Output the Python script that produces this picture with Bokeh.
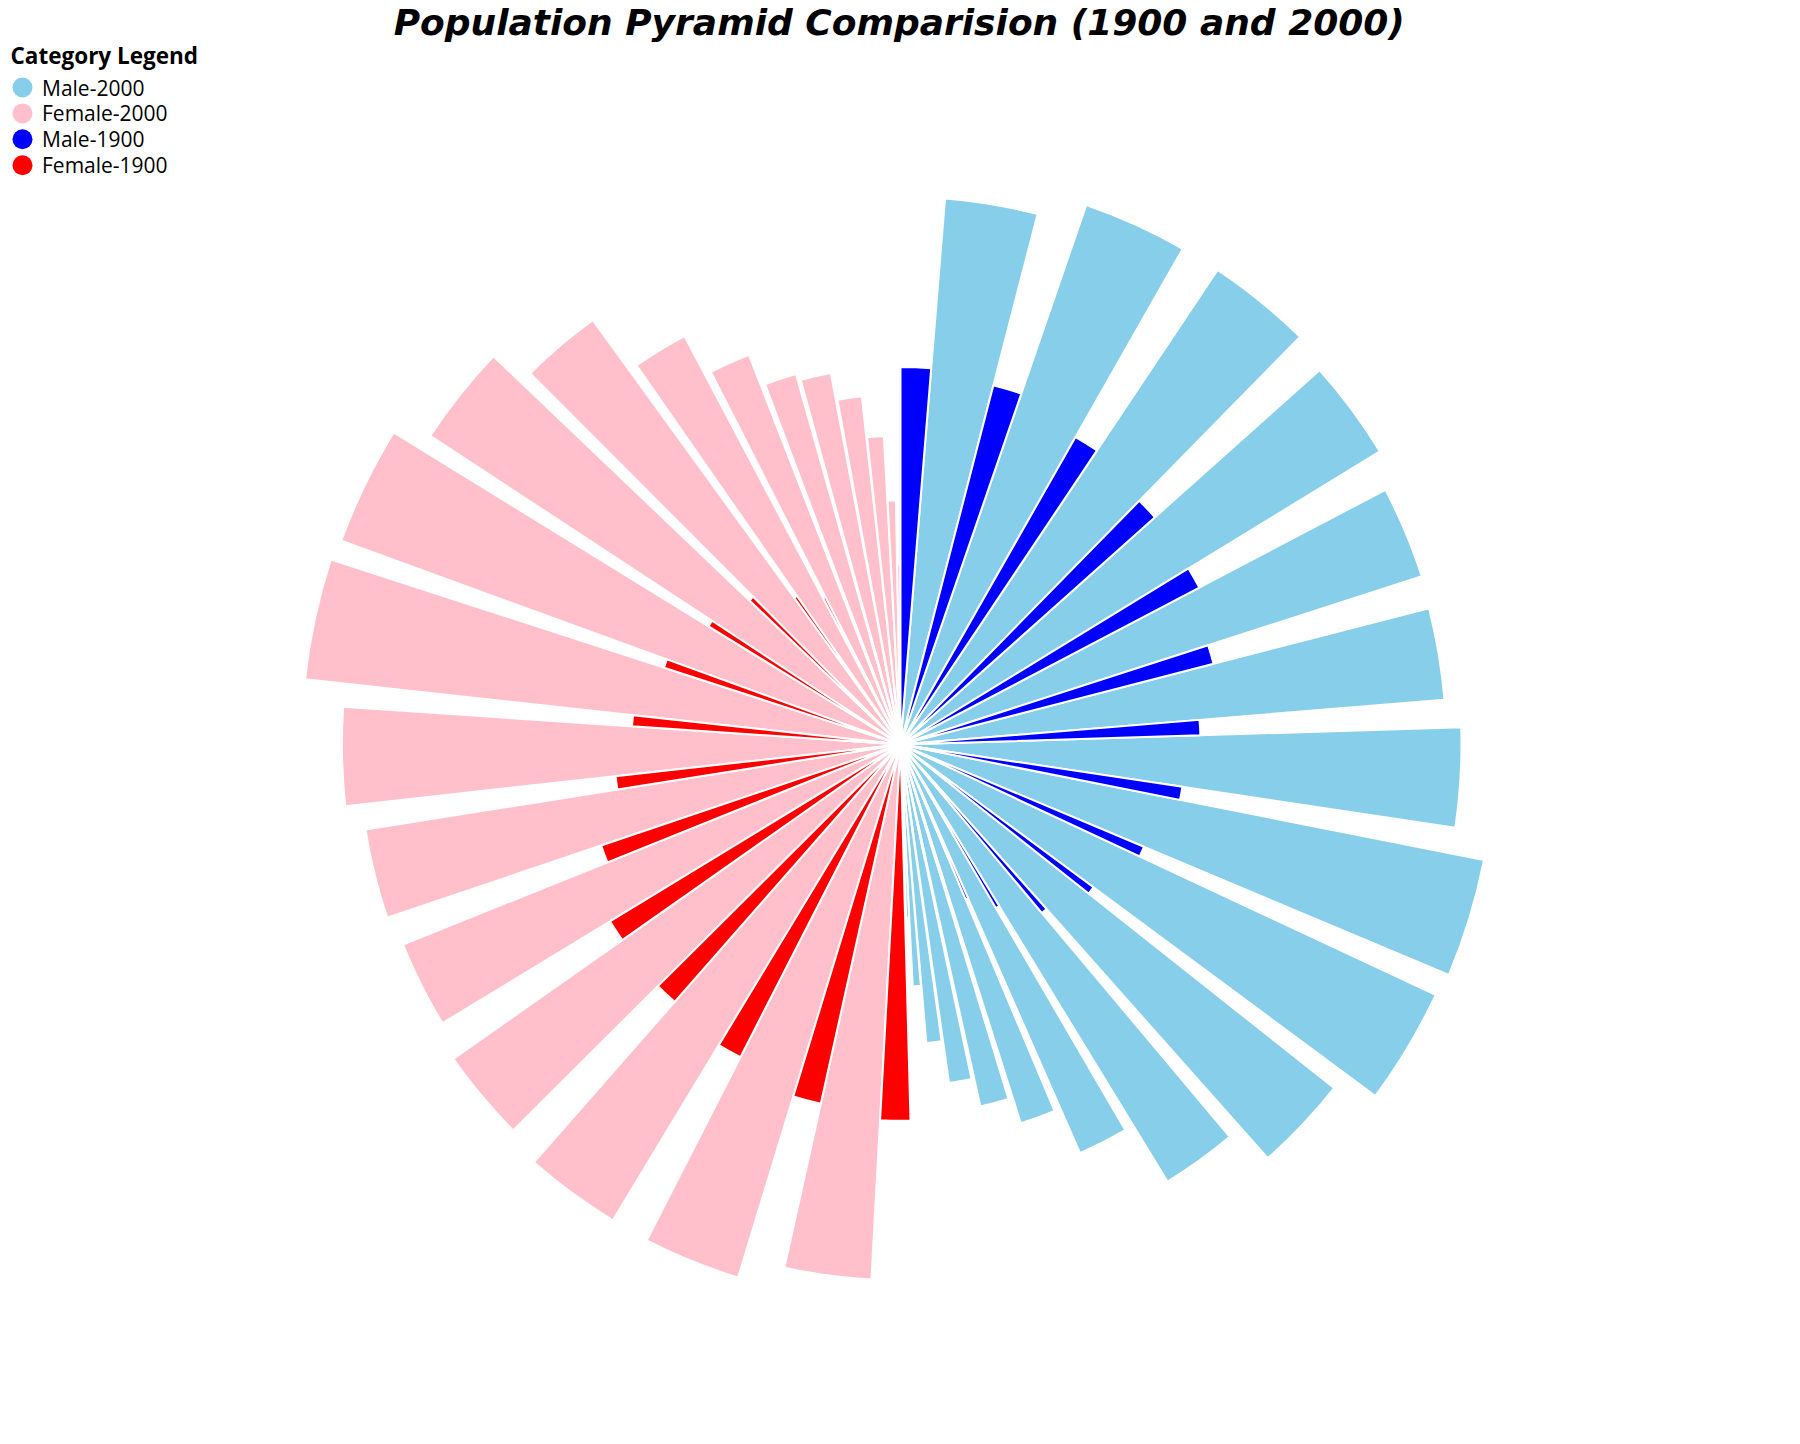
import numpy as np
from bokeh.plotting import figure
from bokeh.models import Range1d, Label, ColumnDataSource
from bokeh.core.properties import value
from bokeh.embed import file_html
from bokeh.resources import INLINE

# ---------------- data ----------------
age_groups = ["0-4", "5-9", "10-14", "15-19", "20-24", "25-29", "30-34", "35-39",
              "40-44", "45-49", "50-54", "55-59", "60-64", "65-69", "70-74",
              "75-79", "80-84", "85-89", "90+"]

male_2000 = [9735380, 10552146, 10563233, 10237419, 9731315, 9659493, 10205879,
             11475182, 11320252, 9925006, 8507934, 6459082, 5123399, 4453623,
             3792145, 2912655, 1902638, 970357, 336303]
female_2000 = [9310714, 10069564, 10022524, 9692669, 9324244, 9518507, 10119296,
               11635647, 11488578, 10261253, 8911133, 6921268, 5668961, 4804784,
               4635925, 3980019, 3095038, 1933970, 1049744]
male_1900 = [4619544, 4465783, 4057669, 3774846, 3694038, 3389280, 2918964,
             2633883, 2261070, 1868413, 1571038, 1161908, 916571, 672663,
             454747, 268211, 127435, 44008, 15164]
female_1900 = [4589196, 4390483, 4001749, 3801743, 3751061, 3236056, 2665174,
               2347737, 2004987, 1648025, 1411981, 1064632, 887508, 640212,
               440007, 265879, 132449, 48650, 22893]

categories = ["Male-2000", "Female-2000", "Male-1900", "Female-1900"]
colors = ["#87CEEB", "#FFC0CB", "#0000FF", "#FF0000"]

title_text = "Population Pyramid Comparision  (1900 and 2000)"
legend_title = "Category Legend"

# ---------------- layout ----------------
W, H = 1792, 1436
CX, CY = 900, 744          # chart centre, canvas px from top-left
R_PX = 599                 # outer radius of the largest value
FONT = "Open Sans"

series = {"Male-2000": male_2000, "Female-2000": female_2000,
          "Male-1900": male_1900, "Female-1900": female_1900}

# stacked order around the circle (clockwise from 12 o'clock)
seq = []
for sex in ["Male", "Female"]:
    for i in range(len(age_groups)):
        for yr in ["1900", "2000"]:
            cat = f"{sex}-{yr}"
            seq.append((cat, age_groups[i], series[cat][i]))

vals = np.array([s[2] for s in seq], dtype=float)
total = vals.sum()
cum = np.concatenate([[0.0], np.cumsum(vals)])
theta0 = cum[:-1] / total * 2 * np.pi
theta1 = cum[1:] / total * 2 * np.pi
vmax = vals.max()
px_per_unit = R_PX / np.sqrt(vmax)

data = {c: dict(x=[], y=[], r=[], start=[], end=[], age=[], value=[]) for c in categories}
for k, (cat, age, v) in enumerate(seq):
    d = data[cat]
    d["x"].append(0.0)
    d["y"].append(0.0)
    d["r"].append(np.sqrt(v))
    d["start"].append(np.pi / 2 - theta1[k])
    d["end"].append(np.pi / 2 - theta0[k])
    d["age"].append(age)
    d["value"].append(v)

p = figure(width=W, height=H,
           x_range=Range1d(-CX / px_per_unit, (W - CX) / px_per_unit),
           y_range=Range1d(-(H - CY) / px_per_unit, CY / px_per_unit),
           x_axis_location=None, y_axis_location=None,
           output_backend="svg", toolbar_location=None, min_border=0)
p.grid.visible = False
p.outline_line_color = None
p.background_fill_color = "white"
p.border_fill_color = "white"

for cat, col in zip(categories, colors):
    src = ColumnDataSource(data[cat])
    p.wedge(x="x", y="y", radius="r", start_angle="start", end_angle="end",
            source=src, fill_color=col, line_color="white", line_width=2)

# ---- legend (pixel coordinate system, y measured from the top) ----
p.extra_x_ranges = {"px": Range1d(0, W)}
p.extra_y_ranges = {"py": Range1d(H, 0)}
LEG_X, LEG_Y0, LEG_DY = 22, 87, 25.9
leg_src = ColumnDataSource(dict(
    x=[LEG_X] * len(categories),
    y=[LEG_Y0 + LEG_DY * i for i in range(len(categories))],
    tx=[LEG_X + 19.5] * len(categories),
    ty=[LEG_Y0 + LEG_DY * i for i in range(len(categories))],
    label=categories, color=colors))
p.scatter(x="x", y="y", size=20, marker="circle", fill_color="color", line_color=None,
          source=leg_src, x_range_name="px", y_range_name="py")
p.text(x="tx", y="ty", text="label", source=leg_src, x_range_name="px", y_range_name="py",
       text_font=value(FONT), text_font_size=value("21px"), text_color="black",
       text_align="left", text_baseline="alphabetic")

p.add_layout(Label(x=10, y=H - 55, x_units="screen", y_units="screen", text=legend_title,
                   text_font=FONT, text_font_style="bold", text_font_size="22.5px",
                   text_color="black", text_align="left", text_baseline="alphabetic"))

p.add_layout(Label(x=CX + 5, y=H - 22, x_units="screen", y_units="screen", text=title_text,
                   text_font="DejaVu Sans", text_font_style="bold italic", text_font_size="36px",
                   text_color="black", text_align="center", text_baseline="alphabetic"))

open("out.html", "w").write(file_html(p, INLINE))
